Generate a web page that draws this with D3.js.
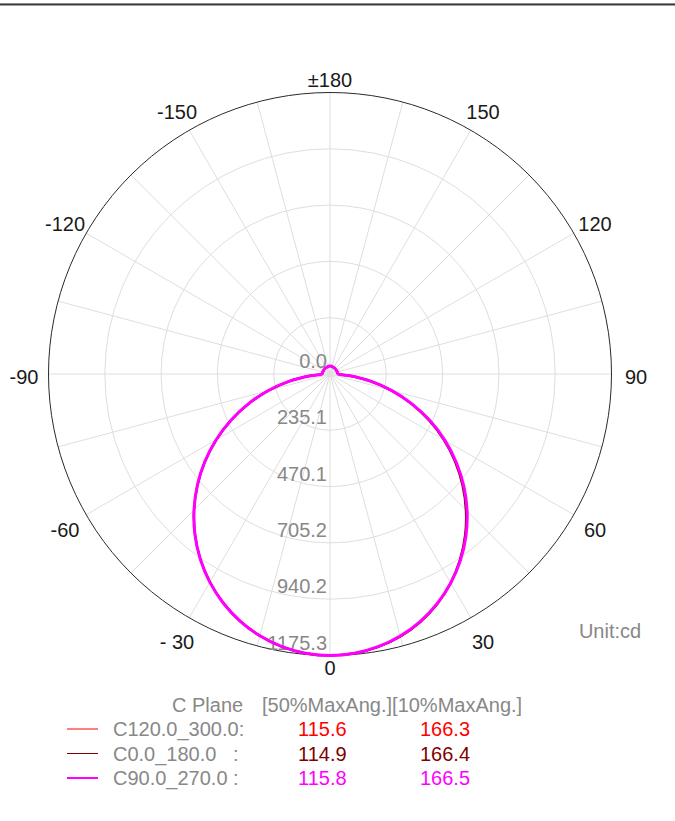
<!DOCTYPE html>
<html>
<head>
<meta charset="utf-8">
<script src="https://cdn.jsdelivr.net/npm/d3@7"></script>
<style>
  html, body { margin: 0; padding: 0; background: #fff; }
  svg { display: block; font-family: "Liberation Sans", Arial, sans-serif; }
</style>
</head>
<body>
<svg id="chart" width="675" height="821"></svg>
<script>
// ---------------- data ----------------
const angles = [-180,-175,-170,-165,-160,-155,-150,-145,-140,-135,-130,-125,-120,-115,-110,-105,-100,-95,
  -90,-85,-80,-75,-70,-65,-60,-55,-50,-45,-40,-35,-30,-25,-20,-15,-10,-5,
  0,5,10,15,20,25,30,35,40,45,50,55,60,65,70,75,80,85,
  90,95,100,105,110,115,120,125,130,135,140,145,150,155,160,165,170,175,180];

const c120_300 = [33.5,33,32.5,32,31.5,31.5,31,31,31,30.5,30.5,30.5,30.5,30.5,31,31,31.5,32,
  33,80.6,171.2,265.8,361.3,455.8,548.2,637.8,722.8,802.8,876.8,943.8,1003.2,1054.8,1097.7,1131.4,1155.8,1170.5,
  1175.3,1170.8,1156.8,1133.8,1101,1058.8,1007.6,948,880.5,805.5,725.5,640.5,551,457.8,362.5,266.5,171.5,82,
  33.5,32,31.5,31,31,30.5,30.5,30.5,30.5,30.5,31,31,31,31.5,31.5,32,32.5,33,33.5];

const c0_180 = [33,32.5,32,31.5,31,31,30.5,30.5,30.5,30,30,30,30,30,30.5,30.5,31,31.5,
  32.5,80.5,171,265.5,361,455.5,548,637.5,722.5,802.5,876.5,943.5,1003,1054.8,1097.8,1131.6,1156,1170.6,
  1175.3,1171,1157.5,1135,1102.5,1060,1007.5,946,877.5,802,722,637,548,455,360.5,265.5,171,81,
  33,31.5,31,30.5,30.5,30,30,30,30,30,30.5,30.5,30.5,31,31,31.5,32,32.5,33];

const c90_270 = [34,33.5,33,32.5,32,32,31.5,31.5,31,31,31,31,31,31,31.5,32,32,32.5,
  33.5,81,171.5,266,361.5,456,548.5,638,723,803,877,944,1003.5,1055,1097.8,1131.5,1155.8,1170.5,
  1175.3,1170.6,1156.2,1132.5,1099.8,1058.1,1008,949.5,883,809.5,729.6,644,554,460.5,364,267.5,172,84,
  34,32.5,32,32,31.5,31,31,31,31,31,31,31.5,31.5,32,32,32.5,33,33.5,34];

const ringValues = [0, 235.1, 470.1, 705.2, 940.2, 1175.3];
const ringLabels = ["0.0", "235.1", "470.1", "705.2", "940.2", "1175.3"];
const spokeAngles = [-180,-165,-150,-135,-120,-105,-90,-75,-60,-45,-30,-15,0,15,30,45,60,75,90,105,120,135,150,165];
const labelAngles = [180,-150,-120,-90,-60,-30,0,30,60,90,120,150];
const angleLabels = ["±180","-150","-120","-90","-60","- 30","0","30","60","90","120","150"];

const seriesNames = ["C120.0_300.0:", "C0.0_180.0   :", "C90.0_270.0 :"];
const seriesColors = ["#ff0000", "#800000", "#ff00ff"];
const seriesWidths = [2, 2.2, 3];
const beam50 = ["115.6", "114.9", "115.8"];
const beam10 = ["166.3", "166.4", "166.5"];
const seriesData = [c120_300, c0_180, c90_270];

// ---------------- layout ----------------
const svg = d3.select("#chart");
const cx = 330, cy = 374, R = 281.5;
const FONT = 20;

// top rule
svg.append("rect").attr("x", 0).attr("y", 3).attr("width", 675).attr("height", 1).attr("fill", "#8a8a8a");
svg.append("rect").attr("x", 0).attr("y", 4).attr("width", 675).attr("height", 1.5).attr("fill", "#3c3c3c");

const rScale = d3.scaleLinear().domain([0, 1175.3]).range([0, R]);
// 0 at bottom, +90 at right, ±180 at top (d3 radial angle: clockwise from 12 o'clock)
const aScale = d3.scaleLinear().domain([-180, 180]).range([2 * Math.PI, 0]);

const g = svg.append("g").attr("transform", `translate(${cx},${cy})`);

// rings
g.selectAll("circle.ring").data(ringValues.slice(1, -1)).enter().append("circle")
  .attr("class", "ring").attr("r", d => rScale(d))
  .attr("fill", "none").attr("stroke", "#dedede").attr("stroke-width", 1);

// spokes
g.selectAll("line.spoke").data(spokeAngles).enter().append("line")
  .attr("class", "spoke")
  .attr("x1", 0).attr("y1", 0)
  .attr("x2", d => rScale(1175.3) * Math.sin(aScale(d)))
  .attr("y2", d => -rScale(1175.3) * Math.cos(aScale(d)))
  .attr("stroke", "#dedede").attr("stroke-width", 1);

// outer circle
g.append("circle").attr("r", rScale(1175.3)).attr("fill", "none").attr("stroke", "#2a2a2a").attr("stroke-width", 1);

// ring labels
g.selectAll("text.rl").data(ringValues).enter().append("text")
  .attr("class", "rl")
  .attr("x", -3)
  .attr("y", d => rScale(d) - 6)
  .attr("text-anchor", "end")
  .attr("font-size", FONT)
  .attr("fill", "#888888")
  .text((d, i) => ringLabels[i]);

// angle labels
const isPole = d => (d === 0 || d === 180);
g.selectAll("text.al").data(labelAngles).enter().append("text")
  .attr("class", "al")
  .attr("x", d => (isPole(d) ? 294 : 306) * Math.sin(aScale(d)))
  .attr("y", d => -(isPole(d) ? 294 : 306) * Math.cos(aScale(d)) + (isPole(d) ? 7 : 9.5))
  .attr("text-anchor", "middle")
  .attr("font-size", FONT)
  .attr("fill", "#1a1a1a")
  .text((d, i) => angleLabels[i]);

// curves
const line = d3.lineRadial()
  .angle(d => aScale(d.a))
  .radius(d => rScale(d.v))
  .curve(d3.curveCatmullRom.alpha(0.5));

seriesData.forEach((vals, si) => {
  const pts = angles.map((a, i) => ({ a: a, v: vals[i] }));
  g.append("path")
    .attr("d", line(pts))
    .attr("fill", "none")
    .attr("stroke", seriesColors[si])
    .attr("stroke-width", seriesWidths[si])
    .attr("stroke-linejoin", "round");
});

// unit
svg.append("text").attr("x", 610).attr("y", 638).attr("text-anchor", "middle")
  .attr("font-size", FONT).attr("fill", "#888888").text("Unit:cd");

// legend
const lg = svg.append("g");
lg.append("text").attr("x", 172).attr("y", 712).attr("font-size", FONT).attr("fill", "#888888").text("C Plane");
lg.append("text").attr("x", 262).attr("y", 712).attr("font-size", FONT).attr("fill", "#888888").text("[50%MaxAng.][10%MaxAng.]");

const rowY = [729, 753.5, 778];
seriesNames.forEach((name, i) => {
  lg.append("line").attr("x1", 67).attr("x2", 98).attr("y1", rowY[i]).attr("y2", rowY[i])
    .attr("stroke", seriesColors[i]).attr("stroke-width", i === 2 ? 2 : 1);
  lg.append("text").attr("x", 113).attr("y", rowY[i] + 7).attr("font-size", FONT)
    .attr("fill", "#888888").attr("xml:space", "preserve").style("white-space", "pre").text(name);
  lg.append("text").attr("x", 298).attr("y", rowY[i] + 7).attr("font-size", FONT)
    .attr("fill", seriesColors[i]).text(beam50[i]);
  lg.append("text").attr("x", 420).attr("y", rowY[i] + 7).attr("font-size", FONT)
    .attr("fill", seriesColors[i]).text(beam10[i]);
});
</script>
</body>
</html>
